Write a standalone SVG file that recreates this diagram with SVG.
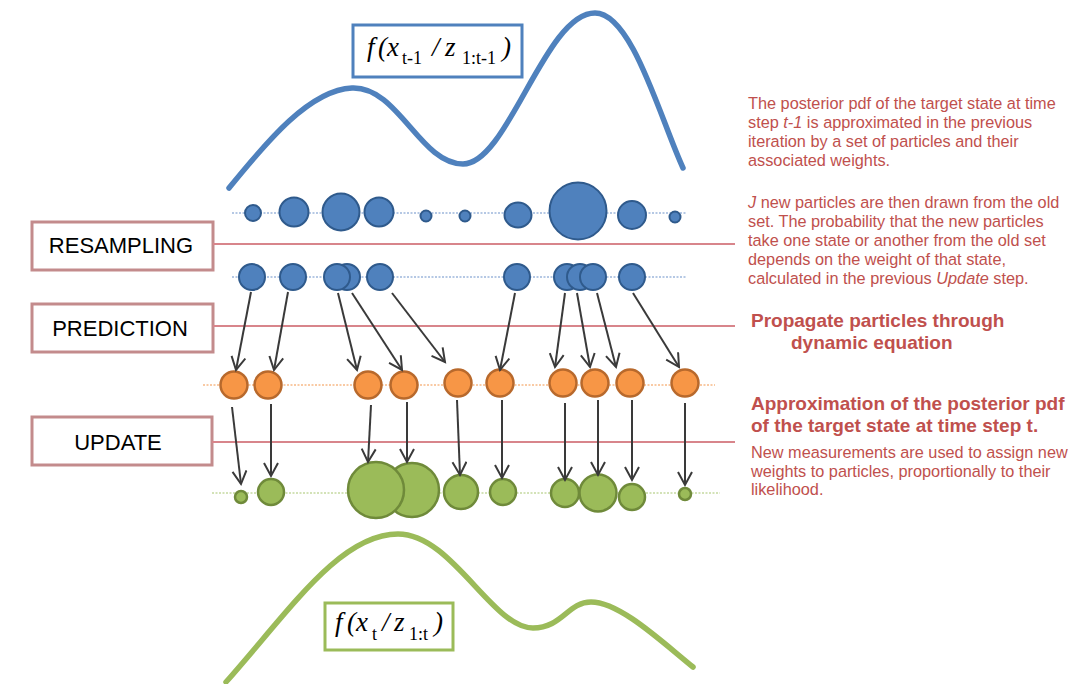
<svg xmlns="http://www.w3.org/2000/svg" width="1073" height="684" viewBox="0 0 1073 684">
<style>
.lbl{fill:#fff;stroke:#c38b8c;stroke-width:3}
.lt{font-family:"Liberation Sans",Arial,sans-serif;font-size:22px;fill:#000;text-anchor:middle}
.sep{stroke:#d8858b;stroke-width:2}
.b{fill:#4f81bd;stroke:#2f5a8c;stroke-width:2}
.o{fill:#f79646;stroke:#b8692c;stroke-width:2.5}
.g{fill:#9bbb59;stroke:#6f8a3a;stroke-width:2.5}
.ar{stroke:#3a3a3a;stroke-width:2;fill:none;marker-end:url(#ah)}
.rt{font-family:"Liberation Sans",Arial,sans-serif;font-size:16.3px;fill:#c0504d}
.rb{font-family:"Liberation Sans",Arial,sans-serif;font-size:19px;font-weight:bold;fill:#c0504d}
.fm{font-family:"Liberation Serif","Times New Roman",serif;font-style:italic;fill:#000}
.sub{font-family:"Liberation Serif","Times New Roman",serif;font-style:normal;fill:#000}
</style>
<defs>
<marker id="ah" markerUnits="userSpaceOnUse" markerWidth="18" markerHeight="18" refX="14" refY="8" orient="auto">
<path d="M1,1 L14,8 L1,15" fill="none" stroke="#3a3a3a" stroke-width="2"/>
</marker>
</defs>
<rect width="1073" height="684" fill="#fff"/>

<g id="curve-prior">
<path d="M229,188 C268,140 310,90 352,88 C398,86 420,164 463,164 C508,164 545,13 595,13 C632,13 660,118 683,168" fill="none" stroke="#4f81bd" stroke-width="5.5" stroke-linecap="round"/>
</g>
<g id="formula-prior">
<rect x="353" y="25" width="169" height="52" fill="#fff" stroke="#4f81bd" stroke-width="3"/>
<text class="fm" font-size="27" y="56"><tspan x="367">f</tspan><tspan x="378">(</tspan><tspan x="387">x</tspan></text>
<text class="sub" font-size="18" y="64"><tspan x="402">t-1</tspan></text>
<text class="fm" font-size="27" y="56"><tspan x="432">/</tspan><tspan x="445">z</tspan></text>
<text class="sub" font-size="18" y="64"><tspan x="462">1:t-1</tspan></text>
<text class="fm" font-size="27" y="56"><tspan x="502">)</tspan></text>
</g>

<g id="label-resampling"><rect class="lbl" x="32" y="222" width="181" height="48"/><text class="lt" x="121" y="253">RESAMPLING</text></g>
<g id="label-prediction"><rect class="lbl" x="32" y="304" width="181" height="48"/><text class="lt" x="120" y="336">PREDICTION</text></g>
<g id="label-update"><rect class="lbl" x="32" y="417" width="180" height="48"/><text class="lt" x="118" y="450">UPDATE</text></g>

<g id="separators">
<line class="sep" x1="213" y1="244" x2="735" y2="244"/>
<line class="sep" x1="213" y1="326" x2="735" y2="326"/>
<line class="sep" x1="212" y1="442" x2="735" y2="442"/>
</g>

<g id="baselines" fill="none" stroke-width="1.5" stroke-dasharray="2,1.5">
<line x1="232" y1="213" x2="686" y2="213" stroke="#9db7dc"/>
<line x1="232" y1="277" x2="686" y2="277" stroke="#9db7dc"/>
<line x1="203" y1="385" x2="715" y2="385" stroke="#f8b987"/>
<line x1="212" y1="493" x2="720" y2="493" stroke="#c5d9a0"/>
</g>

<g id="particles-prior">
<circle class="b" cx="253" cy="213" r="8"/>
<circle class="b" cx="294" cy="212" r="14.5"/>
<circle class="b" cx="341" cy="212" r="18.5"/>
<circle class="b" cx="379" cy="212" r="14.5"/>
<circle class="b" cx="426" cy="216" r="5.5"/>
<circle class="b" cx="465" cy="216" r="5.5"/>
<ellipse class="b" cx="518" cy="215" rx="13.5" ry="12.5"/>
<circle class="b" cx="578" cy="211" r="28.5"/>
<circle class="b" cx="632" cy="215" r="14"/>
<circle class="b" cx="675" cy="217" r="5.5"/>
</g>

<g id="particles-resampled">
<circle class="b" cx="252" cy="277" r="13"/>
<circle class="b" cx="293" cy="277" r="13"/>
<circle class="b" cx="347" cy="277" r="13"/>
<circle class="b" cx="337" cy="277" r="13"/>
<circle class="b" cx="380" cy="277" r="13"/>
<circle class="b" cx="517" cy="277" r="13"/>
<circle class="b" cx="567" cy="277" r="13"/>
<circle class="b" cx="580" cy="277" r="13"/>
<circle class="b" cx="593" cy="277" r="13"/>
<circle class="b" cx="632" cy="277" r="13"/>
</g>

<g id="particles-predicted">
<circle class="o" cx="234" cy="385" r="13.5"/>
<circle class="o" cx="268" cy="385" r="13.5"/>
<circle class="o" cx="368" cy="385" r="13.5"/>
<circle class="o" cx="404" cy="385" r="13.5"/>
<circle class="o" cx="458" cy="383" r="13.5"/>
<circle class="o" cx="500" cy="383" r="13.5"/>
<circle class="o" cx="563" cy="383" r="13.5"/>
<circle class="o" cx="595" cy="383" r="13.5"/>
<circle class="o" cx="630" cy="383" r="13.5"/>
<circle class="o" cx="685" cy="383" r="13.5"/>
</g>

<g id="particles-updated">
<circle class="g" cx="241" cy="497" r="6"/>
<circle class="g" cx="271" cy="492" r="13"/>
<circle class="g" cx="412" cy="490" r="27"/>
<circle class="g" cx="376" cy="490" r="28"/>
<circle class="g" cx="461" cy="492" r="17"/>
<circle class="g" cx="503" cy="492" r="13"/>
<circle class="g" cx="565" cy="493" r="14"/>
<circle class="g" cx="598" cy="493" r="18.5"/>
<circle class="g" cx="632" cy="497" r="13"/>
<circle class="g" cx="685" cy="494" r="6"/>
</g>

<g id="connectors">
<line class="ar" x1="251" y1="292" x2="236" y2="370"/>
<line class="ar" x1="288" y1="292" x2="274" y2="370"/>
<line class="ar" x1="338" y1="293" x2="357" y2="370"/>
<line class="ar" x1="352" y1="293" x2="402" y2="370"/>
<line class="ar" x1="392" y1="293" x2="445" y2="362"/>
<line class="ar" x1="515" y1="293" x2="500" y2="370"/>
<line class="ar" x1="565" y1="293" x2="555" y2="367"/>
<line class="ar" x1="577" y1="293" x2="590" y2="367"/>
<line class="ar" x1="597" y1="293" x2="616" y2="367"/>
<line class="ar" x1="633" y1="293" x2="679" y2="367"/>
<line class="ar" x1="232" y1="407" x2="241" y2="484"/>
<line class="ar" x1="271" y1="404" x2="271" y2="476"/>
<line class="ar" x1="371" y1="405" x2="368" y2="462"/>
<line class="ar" x1="407" y1="402" x2="407" y2="462"/>
<line class="ar" x1="457" y1="400" x2="460" y2="475"/>
<line class="ar" x1="502" y1="400" x2="502" y2="478"/>
<line class="ar" x1="565" y1="403" x2="565" y2="480"/>
<line class="ar" x1="598" y1="400" x2="598" y2="475"/>
<line class="ar" x1="632" y1="400" x2="632" y2="480"/>
<line class="ar" x1="685" y1="403" x2="685" y2="485"/>
</g>

<g id="curve-posterior">
<path d="M226,682 C290,610 340,534 398,534 C452,534 492,628 533,628 C562,628 568,602 591,602 C620,602 662,642 693,667" fill="none" stroke="#9bbb59" stroke-width="5.5" stroke-linecap="round"/>
</g>
<g id="formula-posterior">
<rect x="325" y="603" width="128" height="47" fill="#fff" stroke="#9bbb59" stroke-width="3"/>
<text class="fm" font-size="27" y="631"><tspan x="335">f</tspan><tspan x="347">(</tspan><tspan x="356">x</tspan></text>
<text class="sub" font-size="18" y="640"><tspan x="372">t</tspan></text>
<text class="fm" font-size="27" y="631"><tspan x="382">/</tspan><tspan x="394">z</tspan></text>
<text class="sub" font-size="18" y="640"><tspan x="409">1:t</tspan></text>
<text class="fm" font-size="27" y="631"><tspan x="434">)</tspan></text>
</g>

<g id="text-prior">
<text class="rt" x="748" y="109">The posterior pdf of the target state at time</text>
<text class="rt" x="748" y="128">step <tspan font-style="italic">t-1</tspan> is approximated in the previous</text>
<text class="rt" x="748" y="147">iteration by a set of particles and their</text>
<text class="rt" x="748" y="166">associated weights.</text>
</g>
<g id="text-resampling">
<text class="rt" x="748" y="208"><tspan font-style="italic">J</tspan> new particles are then drawn from the old</text>
<text class="rt" x="748" y="227">set. The probability that the new particles</text>
<text class="rt" x="748" y="246">take one state or another from the old set</text>
<text class="rt" x="748" y="265">depends on the weight of that state,</text>
<text class="rt" x="748" y="284">calculated in the previous <tspan font-style="italic">Update</tspan> step.</text>
</g>
<g id="text-prediction">
<text class="rb" x="751" y="327">Propagate particles through</text>
<text class="rb" x="791" y="349">dynamic equation</text>
</g>
<g id="text-update">
<text class="rb" x="751" y="410">Approximation of the posterior pdf</text>
<text class="rb" x="751" y="432">of the target state at time step t.</text>
<text class="rt" x="751" y="458">New measurements are used to assign new</text>
<text class="rt" x="751" y="477">weights to particles, proportionally to their</text>
<text class="rt" x="751" y="495">likelihood.</text>
</g>
</svg>
